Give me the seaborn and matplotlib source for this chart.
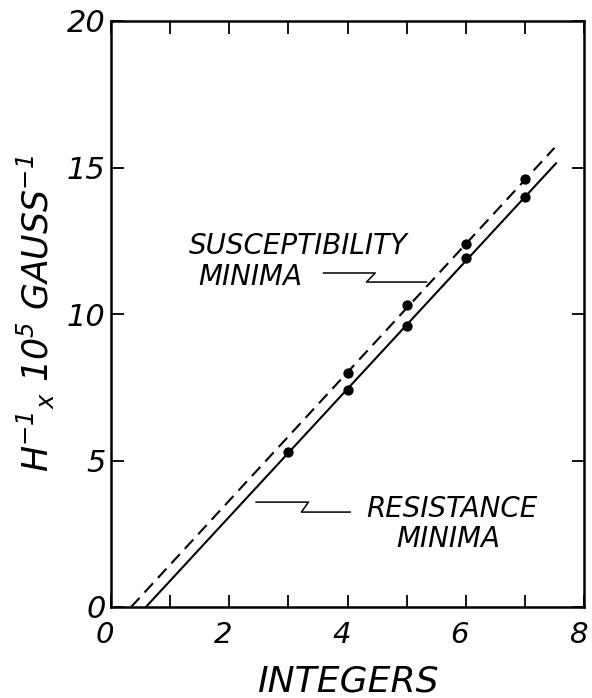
import matplotlib
matplotlib.use("Agg")
import matplotlib.pyplot as plt
from matplotlib.ticker import MultipleLocator
from matplotlib.transforms import ScaledTranslation
import seaborn as sns

# ---- data ----
susc_integers = [4, 5, 6, 7]
susc_minima = [8.0, 10.3, 12.4, 14.6]
res_integers = [3, 4, 5, 6, 7]
res_minima = [5.3, 7.4, 9.6, 11.9, 14.0]

susc_fit_x = [0.34, 7.5]
susc_fit_y = [0.0, 15.67]
res_fit_x = [0.59, 7.53]
res_fit_y = [0.0, 15.15]

susc_leader_x = [3.59, 4.47, 4.32, 5.34]
susc_leader_y = [11.40, 11.40, 11.09, 11.09]
res_leader_x = [2.45, 3.34, 3.22, 4.05]
res_leader_y = [3.58, 3.58, 3.24, 3.24]

x_ticks = [0, 2, 4, 6, 8]
x_ticklabels = ["0", "2", "4", "6", "8"]
y_ticks = [0, 5, 10, 15, 20]
y_ticklabels = ["0", "5", "10", "15", "20"]

sns.set_theme(style="ticks")
plt.rcParams['font.family'] = ['DejaVu Sans']
plt.rcParams['mathtext.default'] = 'regular'

fig = plt.figure(figsize=(5.92, 6.98), dpi=100)
ax = fig.add_axes([111/592, 1-607/698, (584-111)/592, (607-21)/698])

sns.lineplot(x=susc_fit_x, y=susc_fit_y, ax=ax, color='black', lw=1.5,
             linestyle=(0, (6, 3.5)), sort=False)
sns.lineplot(x=res_fit_x, y=res_fit_y, ax=ax, color='black', lw=1.5, sort=False)
sns.scatterplot(x=susc_integers, y=susc_minima, ax=ax, color='black', s=55,
                linewidth=0, zorder=3)
sns.scatterplot(x=res_integers, y=res_minima, ax=ax, color='black', s=55,
                linewidth=0, zorder=3)
sns.lineplot(x=susc_leader_x, y=susc_leader_y, ax=ax, color='black', lw=1.1, sort=False)
sns.lineplot(x=res_leader_x, y=res_leader_y, ax=ax, color='black', lw=1.1, sort=False)

tkw = dict(fontsize=20, style='italic', color='black')
ax.text(3.17, 12.32, "SUSCEPTIBILITY", ha='center', va='center', **tkw)
ax.text(2.36, 11.26, "MINIMA", ha='center', va='center', **tkw)
ax.text(5.76, 3.34, "RESISTANCE", ha='center', va='center', **tkw)
ax.text(5.71, 2.32, "MINIMA", ha='center', va='center', **tkw)

ax.set_xlim(0, 8)
ax.set_ylim(0, 20)
ax.set_xticks(x_ticks)
ax.set_xticklabels(x_ticklabels, fontsize=21, style='italic')
ax.xaxis.set_minor_locator(MultipleLocator(1))
ax.set_yticks(y_ticks)
ax.set_yticklabels(y_ticklabels, fontsize=22, style='italic')
ax.tick_params(which='both', direction='in', length=9, width=1.3,
               top=True, right=True, color='black', labelcolor='black')
ax.tick_params(axis='x', which='major', pad=10)
ax.tick_params(axis='y', which='major', pad=4)
shift = ScaledTranslation(-6/100, 0, fig.dpi_scale_trans)
for lab in ax.get_xticklabels():
    lab.set_transform(lab.get_transform() + shift)
for s in ax.spines.values():
    s.set_linewidth(1.8)
    s.set_color('black')

ax.set_xlabel("INTEGERS", fontsize=26, style='italic', color='black')
ax.xaxis.set_label_coords(0.5, -0.098)
ax.set_ylabel(r"H$^{-1}$$_{x}$ 10$^{5}$ GAUSS$^{-1}$", fontsize=25, style='italic',
              color='black')
ax.yaxis.set_label_coords(-0.115, 0.5)

fig.savefig("out.png", dpi=100, facecolor='white')
